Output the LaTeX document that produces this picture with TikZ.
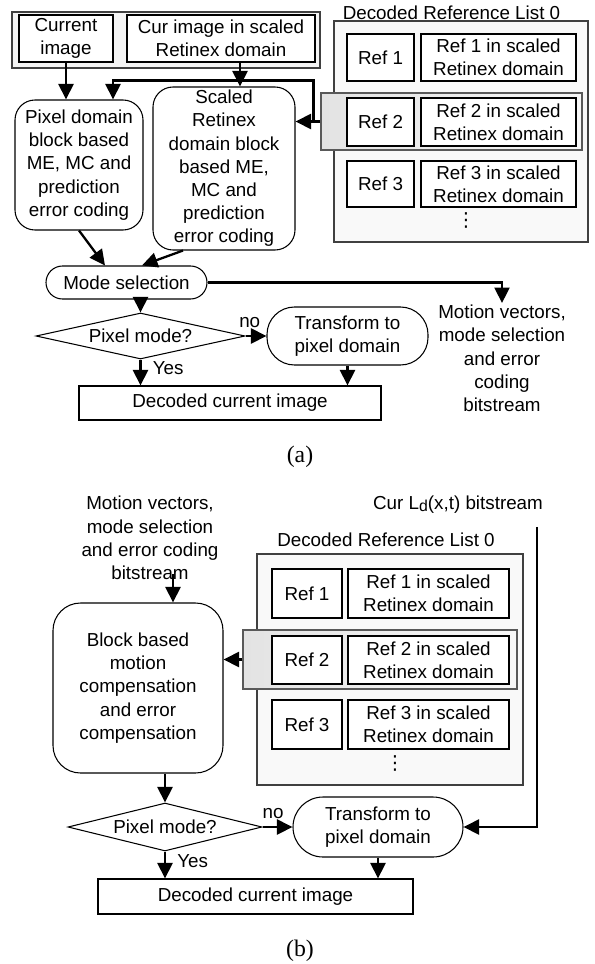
\documentclass[tikz,border=0pt]{standalone}
\usepackage{fontspec}
\setmainfont{Liberation Sans}
\newfontfamily\capfont{Liberation Serif}
\newfontfamily\symfont{DejaVu Sans}
\usetikzlibrary{positioning,shapes.geometric,arrows.meta,calc}

\tikzset{
  box/.style={draw, line width=0.6pt, fill=white, align=center, inner sep=0pt},
  rbox/.style={box, rounded corners=4mm},
  pill/.style={box, rounded corners=3.3mm},
  dmd/.style={draw, line width=0.6pt, diamond, aspect=4.5, inner sep=0pt, fill=white},
  grp/.style={draw=black!75, line width=0.6pt, fill=gray!5, inner sep=0pt},
  hl/.style={draw=black!65, line width=0.6pt, left color=gray!22, right color=gray!6, inner sep=0pt},
  arr/.style={line width=1.3pt, -{Triangle[length=3.1mm,width=3mm]}},
  lbl/.style={align=center, inner sep=1pt},
  dots/.style={inner sep=0pt, font=\symfont\fontsize{11}{11}\selectfont},
  capt/.style={font=\capfont\fontsize{13.5}{15}\selectfont}
}

\begin{document}
\begin{tikzpicture}[x=0.2mm, y=-0.2mm, font=\fontsize{10.7}{13.2}\selectfont]
\useasboundingbox (0,0) rectangle (594,964);

% (a) encoder
\node[grp, fill=gray!9, minimum width=61.6mm, minimum height=11.2mm] (topA) at (166,40) {};
\node[box, minimum width=18.8mm, minimum height=9.4mm] (curA) at (66,38.5) {Current\\image};
\node[box, minimum width=37.6mm, minimum height=9.4mm] (curRA) at (221,38.5) {Cur image in scaled\\Retinex domain};

\node[lbl] (listA) at (451.5,12.5) {Decoded Reference List 0};
\node[grp, minimum width=50.8mm, minimum height=44.2mm] (refsA) at (461,131.5) {};
\node[hl, minimum width=52.2mm, minimum height=11.4mm] (bandA) at (451.5,121.5) {};
\node[box, minimum width=13.4mm, minimum height=9.4mm] (refA1) at (380.5,57.5) {Ref 1};
\node[box, minimum width=31mm, minimum height=9.4mm] (retA1) at (498.5,57.5) {Ref 1 in scaled\\Retinex domain};
\node[box, minimum width=13.4mm, minimum height=9.6mm] (refA2) at (380.5,122) {Ref 2};
\node[box, minimum width=31mm, minimum height=9.6mm] (retA2) at (498.5,122) {Ref 2 in scaled\\Retinex domain};
\node[box, minimum width=13.4mm, minimum height=9.2mm] (refA3) at (380.5,184) {Ref 3};
\node[box, minimum width=31mm, minimum height=9.2mm] (retA3) at (498.5,184) {Ref 3 in scaled\\Retinex domain};
\node[dots] (dotsA) at (466,220) {⋮};

\node[rbox, minimum width=25.6mm, minimum height=26mm] (pixA) at (79,165) {Pixel domain\\block based\\ME, MC and\\prediction\\error coding};
\node[rbox, minimum width=28.4mm, minimum height=32.6mm] (sclA) at (224,168.5) {Scaled\\Retinex\\domain block\\based ME,\\MC and\\prediction\\error coding};
\node[pill, minimum width=32.2mm, minimum height=6.6mm] (modeA) at (126.5,282.5) {Mode selection};
\node[dmd, minimum width=41.8mm, minimum height=9.2mm] (pmA) at (140.5,336) {Pixel mode?};
\node[box, rounded corners=5.5mm, minimum width=32.2mm, minimum height=11.6mm] (trfA) at (347.5,336) {Transform to\\pixel domain};
\node[box, minimum width=60.4mm, minimum height=6.8mm] (decA) at (230,403) {Decoded current image};
\node[lbl, anchor=north] (mvA) at (502,303) {Motion vectors,\\mode selection\\and error\\coding\\bitstream};
\node[capt] (capA) at (300,457) {(a)};

\coordinate (jA) at ($(bandA.west)+(-7,0)$);
\draw[arr] (curA.south) -- (curA.south |- pixA.north);
\draw[arr] ([xshift=3.8mm]curRA.south) -- ([xshift=3.8mm]curRA.south |- sclA.north);
\draw[arr] (bandA.west) -- (bandA.west -| sclA.east);
\draw[arr] (jA) |- ([xshift=6.8mm,yshift=3.8mm]pixA.north) -- ([xshift=6.8mm]pixA.north);
\draw[arr] (pixA.south) -- ([xshift=-4.3mm]modeA.north);
\draw[arr] ([xshift=-8.2mm]sclA.south) -- ([xshift=3.1mm]modeA.north);
\draw[arr] (modeA.east) -| (mvA.north);
\draw[arr] (pmA.north |- modeA.south) -- (pmA.north);
\draw[arr] (pmA.east) -- node[pos=0.2, above=1pt] {no} (trfA.west);
\draw[arr] (pmA.south) -- node[pos=0.35, right=3pt] {Yes} (pmA.south |- decA.north);
\draw[arr] (trfA.south) -- (trfA.south |- decA.north);

% (b) decoder
\node[lbl] (mvB) at (150,538) {Motion vectors,\\mode selection\\and error coding\\bitstream};
\node[lbl] (curLB) at (458,505) {Cur L\raisebox{-0.15ex}{\small d}(x,t) bitstream};

\node[lbl] (listB) at (386,540) {Decoded Reference List 0};
\node[grp, minimum width=53.2mm, minimum height=46.2mm] (refsB) at (390,669.5) {};
\node[hl, minimum width=54.8mm, minimum height=11.8mm] (bandB) at (380,659.5) {};
\node[box, minimum width=14mm, minimum height=9.8mm] (refB1) at (307,593.5) {Ref 1};
\node[box, minimum width=32.2mm, minimum height=9.8mm] (retB1) at (428.5,593.5) {Ref 1 in scaled\\Retinex domain};
\node[box, minimum width=14mm, minimum height=9.6mm] (refB2) at (307,660) {Ref 2};
\node[box, minimum width=32.2mm, minimum height=9.6mm] (retB2) at (428.5,660) {Ref 2 in scaled\\Retinex domain};
\node[box, minimum width=14mm, minimum height=9.8mm] (refB3) at (307,724.5) {Ref 3};
\node[box, minimum width=32.2mm, minimum height=9.8mm] (retB3) at (428.5,724.5) {Ref 3 in scaled\\Retinex domain};
\node[dots] (dotsB) at (395,763) {⋮};

\node[box, rounded corners=5.5mm, minimum width=34mm, minimum height=34mm] (blkB) at (138,688) {Block based\\motion\\compensation\\and error\\compensation};
\node[dmd, minimum width=38.8mm, minimum height=9.6mm] (pmB) at (165,827) {Pixel mode?};
\node[box, rounded corners=6mm, minimum width=34mm, minimum height=12mm] (trfB) at (378,827) {Transform to\\pixel domain};
\node[box, minimum width=63mm, minimum height=7mm] (decB) at (255.5,896.5) {Decoded current image};
\node[capt] (capB) at (300,951) {(b)};

\draw[arr] ([xshift=7mm,yshift=5.6mm]blkB.north) -- ([xshift=7mm]blkB.north);
\draw[arr] (bandB.west) -- (bandB.west -| blkB.east);
\draw[arr] ([xshift=15.8mm,yshift=-2.2mm]curLB.south) |- (trfB.east);
\draw[arr] (pmB.north |- blkB.south) -- (pmB.north);
\draw[arr] (pmB.east) -- node[pos=0.35, above=1pt] {no} (trfB.west);
\draw[arr] (pmB.south) -- node[pos=0.35, right=3pt] {Yes} (pmB.south |- decB.north);
\draw[arr] (trfB.south) -- (trfB.south |- decB.north);
\end{tikzpicture}
\end{document}
